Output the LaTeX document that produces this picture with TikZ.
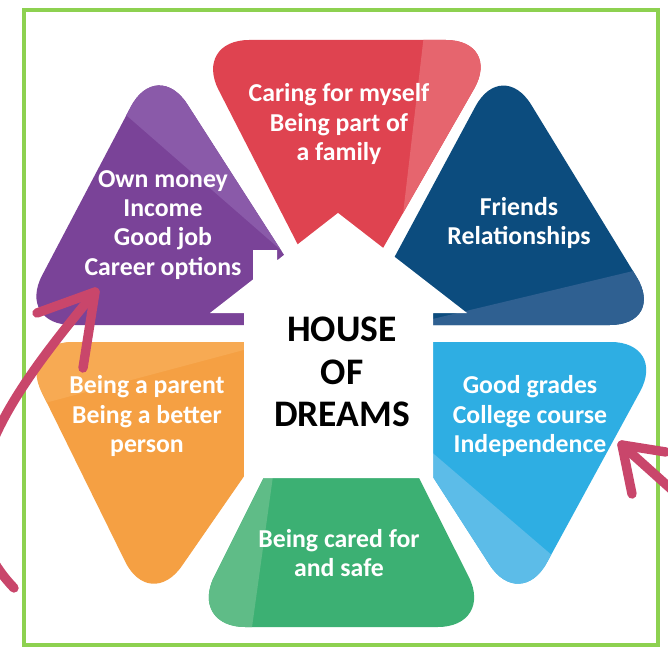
\documentclass[tikz,border=0pt]{standalone}
\usepackage{fontspec}
\setmainfont{Carlito}
\usetikzlibrary{arrows}

\definecolor{redBase}{HTML}{DF4350}
\definecolor{redLight}{HTML}{E6656E}
\definecolor{purpleBase}{HTML}{7A4398}
\definecolor{purpleLight}{HTML}{8A5AA9}
\definecolor{navyBase}{HTML}{0C4C7E}
\definecolor{navyLight}{HTML}{2F6091}
\definecolor{skyBase}{HTML}{2EAEE3}
\definecolor{skyLight}{HTML}{5CBCE8}
\definecolor{greenBase}{HTML}{3CB073}
\definecolor{greenLight}{HTML}{5FBC87}
\definecolor{orangeBase}{HTML}{F5A043}
\definecolor{orangeLight}{HTML}{F7AA53}
\definecolor{arrowRed}{HTML}{C9466B}
\definecolor{frameGreen}{HTML}{8DD150}

\begin{document}
\begin{tikzpicture}[x=0.03cm, y=-0.03cm]
	\tikzstyle{petalStyle}=[rounded corners=48pt]
	\tikzstyle{petalText}=[text=white, align=center, inner sep=0pt, font=\fontsize{22}{24.8}\selectfont\bfseries]
	\tikzstyle{houseText}=[text=black, align=center, inner sep=0pt, font=\fontsize{32}{36}\selectfont\bfseries]
	\tikzstyle{arrowLine}=[draw=arrowRed, line width=8pt, line cap=round, line join=round]
	\useasboundingbox (0,0) rectangle (668,649);
	\fill[white] (0,0) rectangle (668,649);
	% red petal
	\begin{scope}
		\clip[petalStyle] (193,40) -- (502,40) -- (339,325) -- cycle;
		\fill[redBase] (0,0) rectangle (668,649);
		\fill[redLight] (428,0) -- (700,0) -- (700,400) -- (393,300) -- cycle;
	\end{scope}
	% purple petal
	\begin{scope}
		\clip[petalStyle] (16,325) -- (157,57) -- (329,325) -- cycle;
		\fill[purpleBase] (0,0) rectangle (668,649);
		\fill[purpleLight] (40,0) -- (40,40) -- (290,258) -- (400,258) -- (400,0) -- cycle;
	\end{scope}
	% navy petal
	\begin{scope}
		\clip[petalStyle] (358,325) -- (502,57) -- (666,325) -- cycle;
		\fill[navyBase] (0,0) rectangle (668,649);
		\fill[navyLight] (420,322) -- (700,255) -- (700,400) -- (420,400) -- cycle;
	\end{scope}
	% orange petal
	\begin{scope}
		\clip[petalStyle] (17,342) -- (337,342) -- (150,612) -- cycle;
		\fill[orangeBase] (0,0) rectangle (668,649);
		\fill[orangeLight] (0,300) -- (300,300) -- (300,335) -- (0,415) -- cycle;
	\end{scope}
	% sky petal
	\begin{scope}
		\clip[petalStyle] (346,342) -- (667,342) -- (520,612) -- cycle;
		\fill[skyBase] (0,0) rectangle (668,649);
		\fill[skyLight] (400,425) -- (575,575) -- (575,649) -- (400,649) -- cycle;
	\end{scope}
	% green petal
	\begin{scope}
		\clip[petalStyle] (189,627) -- (341,323) -- (494,627) -- cycle;
		\fill[greenBase] (0,0) rectangle (668,649);
		\fill[greenLight] (150,440) -- (278,440) -- (249,649) -- (150,649) -- cycle;
	\end{scope}
	% house
	\fill[white] (210,313) -- (253,279.5) -- (253,250) -- (277,250) -- (277,260.5)
		-- (338,213) -- (467,313) -- (433,313) -- (433,478) -- (244,478) -- (244,313) -- cycle;
	\node[houseText] (house) at (342,372) {HOUSE\\OF\\DREAMS};
	\node[petalText] (redText) at (339,124) {Caring for myself\\Being part of\\a family};
	\node[petalText] (purpleText) at (163,225) {Own money\\Income\\Good job\\Career options};
	\node[petalText] (navyText) at (519,223) {Friends\\Relationships};
	\node[petalText] (orangeText) at (147,416) {Being a parent\\Being a better\\person};
	\node[petalText] (skyText) at (530,416) {Good grades\\College course\\Independence};
	\node[petalText] (greenText) at (339,553) {Being cared for\\and safe};
	% frame
	\draw[frameGreen, line width=3.5pt] (24,10) rectangle (658,645);
	% arrows
	\coordinate (leftTail) at (14,588);
	\coordinate (leftTip) at (95,292);
	\coordinate (leftBarbA) at (37,313);
	\coordinate (leftBarbB) at (83,368);
	\draw[arrowLine] (leftTail) .. controls (-70,500) and (10,395) .. (leftTip);
	\draw[arrowLine] (leftBarbA) -- (leftTip) -- (leftBarbB);
	\coordinate (rightTail) at (700,515);
	\coordinate (rightTip) at (622,445);
	\coordinate (rightBarbA) at (666,452);
	\coordinate (rightBarbB) at (632,494);
	\draw[arrowLine] (rightTail) .. controls (670,488) .. (rightTip);
	\draw[arrowLine] (rightBarbA) -- (rightTip) -- (rightBarbB);
\end{tikzpicture}
\end{document}
